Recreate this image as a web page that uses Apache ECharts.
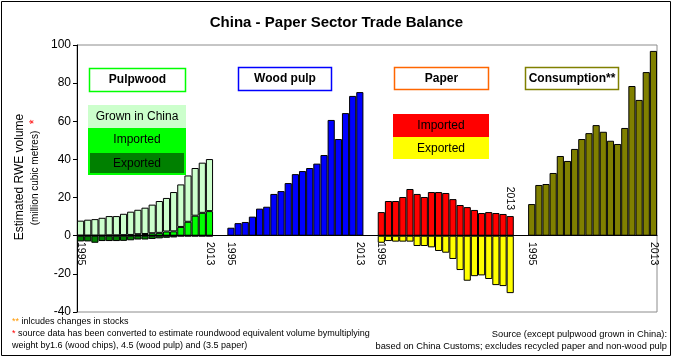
<!DOCTYPE html>
<html><head><meta charset="utf-8">
<script src="https://cdn.jsdelivr.net/npm/echarts@6/dist/echarts.min.js"></script>
<style>html,body{margin:0;padding:0;background:#fff}#c{width:673px;height:358px}</style>
</head><body><div id="c"></div>
<script>
// ---- data ----
const years19 = ['1995','1996','1997','1998','1999','2000','2001','2002','2003','2004','2005','2006','2007','2008','2009','2010','2011','2012','2013'];
const consumptionYears = ['1996','1997','1998','1999','2000','2001','2002','2003','2004','2005','2006','2007','2008','2009','2010','2011','2012','2013'];

const pulpwoodImported = [0.1,0.1,0.1,0.1,0.2,0.2,0.3,0.4,0.8,0.9,1.3,1.5,2.2,2.3,4.6,7.3,10.5,12.0,12.9];
const pulpwoodGrown    = [7.8,8.3,8.6,9.3,10.1,10.1,11.2,12.2,12.8,13.8,15.0,16.7,17.6,20.6,22.3,24.3,25.0,26.3,27.3];
const pulpwoodExported = [-3.0,-3.0,-3.7,-2.8,-2.8,-2.8,-2.7,-2.4,-2.0,-2.0,-1.7,-1.4,-1.1,-0.9,-0.3,-0.3,-0.3,-0.3,-0.3];
const woodPulp         = [4.2,6.6,7.2,10.0,14.2,15.2,21.9,23.4,27.6,32.3,33.9,35.5,37.8,42.3,60.7,50.7,64.3,73.3,75.3];
const paperImported    = [12.4,18.2,18.2,20.3,24.5,21.9,20.3,22.9,22.9,22.4,19.2,16.1,15.0,13.5,11.9,12.4,11.9,11.4,10.3];
const paperExported    = [-3.7,-2.8,-3.1,-3.1,-3.1,-5.4,-5.4,-6.1,-8.0,-8.9,-12.2,-18.0,-23.6,-21.2,-20.8,-22.7,-25.9,-26.4,-30.1];
const consumption      = [16.6,26.6,27.1,32.9,41.8,39.2,45.5,50.7,53.8,58.0,54.5,49.8,48.1,56.5,78.5,71.2,85.8,96.9];

const groupNames = ['Pulpwood','Wood pulp','Paper','Consumption'];
const groupYears = [years19, years19, years19, consumptionYears];
// tick labels shown at first / last bar of each group (paper's "2013" sits above its bars)
const groupFirstTick = ['1995','1995','1995','1995'];
const groupLastTick  = ['2013','2013','','2013'];
const paperLastLabel = '2013';
const yTicks = {min:-40, max:100, interval:20};
const gapCategories = 2;

// ---- build categories ----
const categories = [], tickLabels = [], groupOffset = [];
groupNames.forEach((g, gi) => {
  if (gi > 0) for (let k = 0; k < gapCategories; k++) { categories.push('gap' + gi + '_' + k); tickLabels.push(''); }
  groupOffset.push(categories.length);
  groupYears[gi].forEach((y, i, arr) => {
    categories.push(g + ' ' + y);
    tickLabels.push(i === 0 ? groupFirstTick[gi] : (i === arr.length - 1 ? groupLastTick[gi] : ''));
  });
});
function place(values, gi) {
  const out = categories.map(() => '-');
  values.forEach((v, i) => { out[groupOffset[gi] + i] = v; });
  return out;
}

const FONT = 'Liberation Sans, Arial, sans-serif';
const border = {borderColor:'#000', borderWidth:1};
function bar(name, data, color, extra) {
  return Object.assign({
    name, type:'bar', stack:'all', data, barCategoryGap:'0%', barGap:'0%',
    itemStyle: Object.assign({color}, border), animation:false, emphasis:{disabled:true}
  }, extra || {});
}

const paperImpData = place(paperImported, 2);
const lastPaperIdx = groupOffset[2] + paperImported.length - 1;
paperImpData[lastPaperIdx] = {
  value: paperImported[paperImported.length - 1],
  label: {show:true, position:'top', rotate:-90, align:'right', verticalAlign:'middle', distance:6,
          formatter: paperLastLabel, color:'#000', fontFamily:FONT, fontSize:10.5}
};

const chart = echarts.init(document.getElementById('c'), null, {renderer:'canvas'});
chart.setOption({
  animation:false,
  backgroundColor:'#fff',
  title:{text:'China - Paper Sector Trade Balance', left:'center', top:10,
    textStyle:{fontFamily:FONT, fontWeight:'bold', fontSize:15, color:'#000'}},
  grid:{left:77, right:16, top:45, bottom:46, containLabel:false, outerBoundsMode:'none',
    show:true, borderColor:'#8c8c8c', borderWidth:1, backgroundColor:'transparent'},
  xAxis:{type:'category', data:categories, z:5,
    axisLine:{onZero:true, lineStyle:{color:'#000', width:1}},
    axisTick:{show:false}, splitLine:{show:false},
    axisLabel:{interval:0, rotate:-90, margin:-70, color:'#000', fontFamily:FONT, fontSize:10.5,
      formatter:(v, i) => tickLabels[i]}},
  yAxis:{type:'value', min:yTicks.min, max:yTicks.max, interval:yTicks.interval,
    axisLine:{show:true, lineStyle:{color:'#000'}},
    axisTick:{show:true, length:4, lineStyle:{color:'#000'}},
    splitLine:{show:false},
    axisLabel:{color:'#000', fontFamily:FONT, fontSize:12, margin:6}},
  series:[
    bar('Pulpwood imported', place(pulpwoodImported,0), '#00ff00'),
    bar('Pulpwood grown in China', place(pulpwoodGrown,0), '#ccffcc'),
    bar('Pulpwood exported', place(pulpwoodExported,0), '#008000'),
    bar('Wood pulp', place(woodPulp,1), '#0000ff'),
    bar('Paper imported', paperImpData, '#ff0000'),
    bar('Paper exported', place(paperExported,2), '#ffff00'),
    bar('Consumption', place(consumption,3), '#808000')
  ],
  graphic:[
    {type:'rect', shape:{x:1.5, y:1.5, width:669, height:354}, style:{fill:'none', stroke:'#000', lineWidth:1}, z:100},
    // y-axis name
    {type:'text', x:20, y:177, rotation:Math.PI/2, style:{text:'Estimated RWE volume', font:'12px ' + FONT, fill:'#000', align:'center', verticalAlign:'middle', textAlign:'center', textVerticalAlign:'middle'}},
    {type:'text', x:35, y:178, rotation:Math.PI/2, style:{text:'(million cubic metres)', font:'10px ' + FONT, fill:'#000', align:'center', verticalAlign:'middle', textAlign:'center', textVerticalAlign:'middle'}},
    {type:'text', x:35, y:122, rotation:Math.PI/2, style:{text:'*', font:'12px ' + FONT, fill:'#ff0000', align:'center', verticalAlign:'middle', textAlign:'center', textVerticalAlign:'middle'}},
    // group headers
    {type:'rect', shape:{x:89.5, y:68.5, width:96, height:23}, style:{fill:'#fff', stroke:'#00ff00', lineWidth:1.5}},
    {type:'text', x:137.5, y:80, style:{text:'Pulpwood', font:'bold 12px ' + FONT, fill:'#000', align:'center', verticalAlign:'middle', textAlign:'center', textVerticalAlign:'middle'}},
    {type:'rect', shape:{x:238.5, y:67.5, width:93, height:23}, style:{fill:'#fff', stroke:'#0000ff', lineWidth:1.5}},
    {type:'text', x:285, y:79, style:{text:'Wood pulp', font:'bold 12px ' + FONT, fill:'#000', align:'center', verticalAlign:'middle', textAlign:'center', textVerticalAlign:'middle'}},
    {type:'rect', shape:{x:394.5, y:67.5, width:94, height:22}, style:{fill:'#fff', stroke:'#ff6600', lineWidth:1.5}},
    {type:'text', x:441.5, y:78.5, style:{text:'Paper', font:'bold 12px ' + FONT, fill:'#000', align:'center', verticalAlign:'middle', textAlign:'center', textVerticalAlign:'middle'}},
    {type:'rect', shape:{x:525.5, y:67.5, width:93, height:22}, style:{fill:'#fff', stroke:'#808000', lineWidth:1.5}},
    {type:'text', x:572, y:78.5, style:{text:'Consumption**', font:'bold 12px ' + FONT, fill:'#000', align:'center', verticalAlign:'middle', textAlign:'center', textVerticalAlign:'middle'}},
    // pulpwood legend
    {type:'rect', shape:{x:88, y:105, width:98, height:23}, style:{fill:'#ccffcc'}},
    {type:'text', x:137, y:116.5, style:{text:'Grown in China', font:'12px ' + FONT, fill:'#000', align:'center', verticalAlign:'middle', textAlign:'center', textVerticalAlign:'middle'}},
    {type:'rect', shape:{x:88, y:128, width:98, height:24}, style:{fill:'#00ff00'}},
    {type:'text', x:137, y:140, style:{text:'Imported', font:'12px ' + FONT, fill:'#000', align:'center', verticalAlign:'middle', textAlign:'center', textVerticalAlign:'middle'}},
    {type:'rect', shape:{x:89, y:152, width:96, height:22}, style:{fill:'#008000', stroke:'#00ff00', lineWidth:2}},
    {type:'text', x:137, y:163.5, style:{text:'Exported', font:'12px ' + FONT, fill:'#000', align:'center', verticalAlign:'middle', textAlign:'center', textVerticalAlign:'middle'}},
    // paper legend
    {type:'rect', shape:{x:393, y:114, width:96, height:23}, style:{fill:'#ff0000'}},
    {type:'text', x:441, y:126, style:{text:'Imported', font:'12px ' + FONT, fill:'#000', align:'center', verticalAlign:'middle', textAlign:'center', textVerticalAlign:'middle'}},
    {type:'rect', shape:{x:393, y:137, width:96, height:22}, style:{fill:'#ffff00'}},
    {type:'text', x:441, y:148.5, style:{text:'Exported', font:'12px ' + FONT, fill:'#000', align:'center', verticalAlign:'middle', textAlign:'center', textVerticalAlign:'middle'}},
    // footnotes
    {type:'text', x:12, y:322, style:{text:'{o|**} inlcudes changes in stocks', rich:{o:{fill:'#ff9900', font:'9px ' + FONT}}, font:'9px ' + FONT, fill:'#000', align:'left', verticalAlign:'middle', textAlign:'left', textVerticalAlign:'middle'}},
    {type:'text', x:12, y:334, style:{text:'{r|*} source data has been converted to estimate roundwood equivalent volume bymultiplying', rich:{r:{fill:'#ff0000', font:'9px ' + FONT}}, font:'9px ' + FONT, fill:'#000', align:'left', verticalAlign:'middle', textAlign:'left', textVerticalAlign:'middle'}},
    {type:'text', x:12, y:346, style:{text:'weight by1.6 (wood chips), 4.5 (wood pulp) and (3.5 paper)', font:'9px ' + FONT, fill:'#000', align:'left', verticalAlign:'middle', textAlign:'left', textVerticalAlign:'middle'}},
    {type:'text', x:667, y:334, style:{text:'Source (except pulpwood grown in China):', font:'9.3px ' + FONT, fill:'#000', align:'right', verticalAlign:'middle', textAlign:'right', textVerticalAlign:'middle'}},
    {type:'text', x:667, y:346, style:{text:'based on China Customs; excludes recycled paper and non-wood pulp', font:'9.3px ' + FONT, fill:'#000', align:'right', verticalAlign:'middle', textAlign:'right', textVerticalAlign:'middle'}}
  ]
});
</script>
</body></html>
